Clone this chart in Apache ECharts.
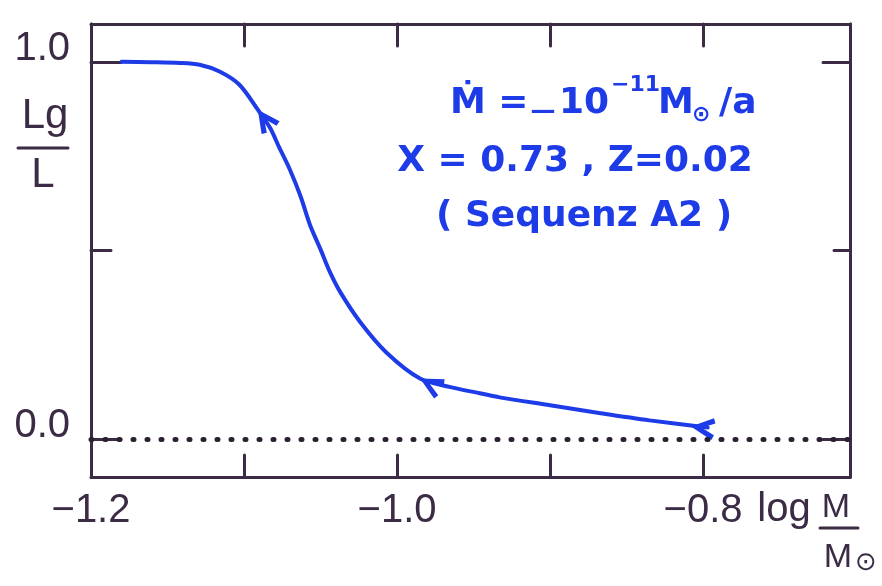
<!DOCTYPE html>
<html>
<head>
<meta charset="utf-8">
<script src="https://cdn.jsdelivr.net/npm/echarts@6/dist/echarts.min.js"></script>
<style>
  html, body { margin: 0; padding: 0; background: #fff; }
  #main { width: 882px; height: 586px; }
</style>
</head>
<body>
<div id="main"></div>
<script>
// track L_g/L against log M/M_sun (Sequenz A2)
const logM = [-1.180, -1.161, -1.142, -1.129, -1.116, -1.103, -1.091, -1.083, -1.077, -1.070, -1.063, -1.057, -1.050,
  -1.044, -1.037, -1.024, -1.007, -0.985, -0.965, -0.946, -0.933, -0.900, -0.867, -0.835, -0.797]
const lgRatio = [1.000, 0.999, 0.997, 0.992, 0.974, 0.939, 0.873, 0.825, 0.773, 0.714, 0.643, 0.569, 0.503,
  0.444, 0.389, 0.310, 0.230, 0.161, 0.138, 0.122, 0.111, 0.090, 0.069, 0.050, 0.031]

// arrow tips on the track (evolution runs to the left)
const arrowM = [-1.091, -0.985, -0.808]
const arrowL = [0.873, 0.161, 0.034]

// ticks and labels
const xTicks = [-1.1, -1.0, -0.9, -0.8]
const xLabels = [-1.2, -1.0, -0.8]
const yMainTicks = [0, 1]
const yMidTicks = [0.5]
const yLabels = [0, 1]

const ink = "#3b2b45"
const blue = "#1d3ce8"
const sans = "'Liberation Sans', sans-serif"
const hand = "bold 36px 'DejaVu Sans', sans-serif"
const handSmall = "bold 22px 'DejaVu Sans', sans-serif"

const fmt = v => v.toFixed(1).replace("-", "\u2212")
const frameLine = { onZero: false, lineStyle: { color: ink, width: 3 } }
const tickStyle = { color: ink, width: 3, cap: "round" }

const xAxisBase = {
  type: "value", min: -1.2, max: -0.704,
  axisLine: frameLine, splitLine: { show: false },
  axisTick: { inside: true, length: 22, customValues: xTicks, lineStyle: tickStyle }
}
const yAxisBase = {
  type: "value", min: -0.1, max: 1.1,
  axisLine: frameLine, splitLine: { show: false }, axisLabel: { show: false }
}

const chevron = "path://M0,11 L22,0 L24,5 L11,11 L24,17 L22,22 Z"

const blueText = (x, y, text, font, align) => ({
  type: "text", x, y,
  style: { text, font, fill: blue, align: align || "left", verticalAlign: "middle" }
})
const inkText = (x, y, text, font) => ({
  type: "text", x, y,
  style: { text, font, fill: ink, align: "center", verticalAlign: "middle" }
})

const options = {
  animation: false,
  grid: { left: 91, right: 32, top: 24, bottom: 109 },
  xAxis: [
    Object.assign({}, xAxisBase, {
      position: "bottom",
      axisLabel: { customValues: xLabels, formatter: fmt, fontSize: 40, fontFamily: sans, color: ink, margin: 14 }
    }),
    Object.assign({}, xAxisBase, { position: "top", axisLabel: { show: false } })
  ],
  yAxis: [
    Object.assign({}, yAxisBase, {
      position: "left",
      axisTick: { inside: true, length: 30, customValues: yMainTicks, lineStyle: tickStyle },
      axisLabel: { show: true, customValues: yLabels, formatter: fmt, fontSize: 40, fontFamily: sans, color: ink,
        margin: 21, verticalAlign: "bottom", lineHeight: 26 }
    }),
    Object.assign({}, yAxisBase, {
      position: "right",
      axisTick: { inside: true, length: 27, customValues: yMainTicks, lineStyle: tickStyle }
    }),
    Object.assign({}, yAxisBase, {
      position: "left",
      axisTick: { inside: true, length: 20, customValues: yMidTicks, lineStyle: tickStyle }
    }),
    Object.assign({}, yAxisBase, {
      position: "right",
      axisTick: { inside: true, length: 16, customValues: yMidTicks, lineStyle: tickStyle }
    })
  ],
  series: [
    {
      type: "line",
      data: logM.map((m, i) => [m, lgRatio[i]]),
      smooth: 0.3,
      showSymbol: false,
      lineStyle: { color: blue, width: 4, cap: "round" },
      markLine: {
        silent: true,
        symbol: ["none", "none"],
        label: { show: false },
        lineStyle: { color: "#2a2030", type: [1, 13], width: 5, cap: "round" },
        data: [{ yAxis: 0 }]
      },
      z: 3
    },
    {
      type: "scatter",
      data: arrowM.map((m, i) => [m, arrowL[i]]),
      symbol: chevron,
      symbolSize: [24, 22],
      itemStyle: { color: blue, opacity: 1 },
      z: 4
    }
  ],
  graphic: [
    // y axis name: Lg / L
    inkText(45, 116, "Lg", "42px " + sans),
    { type: "line", shape: { x1: 18, y1: 148, x2: 68, y2: 148 }, style: { stroke: ink, lineWidth: 3, lineCap: "round" } },
    inkText(43, 175, "L", "42px " + sans),
    // x axis name: log M / M_sun
    inkText(784, 510, "log", "40px " + sans),
    inkText(836, 508, "M", "34px " + sans),
    { type: "line", shape: { x1: 820, y1: 528, x2: 858, y2: 528 }, style: { stroke: ink, lineWidth: 3, lineCap: "round" } },
    inkText(838, 558, "M", "34px " + sans),
    inkText(866, 563, "\u2299", "26px 'DejaVu Sans'"),
    // annotation
    blueText(450, 104, "\u1E40 =", hand),
    blueText(543, 111, "\u2014", "bold 25px 'DejaVu Sans', sans-serif", "center"),
    blueText(609, 104, "10", hand, "right"),
    blueText(611, 85, "\u221211", handSmall),
    blueText(658, 104, "M", hand),
    blueText(692, 115, "\u2299", handSmall),
    blueText(719, 104, "/a", hand),
    blueText(575, 162, "X = 0.73 , Z=0.02", hand, "center"),
    blueText(584, 217, "( Sequenz A2 )", hand, "center")
  ]
}

const myChart = echarts.init(document.getElementById("main"))
myChart.setOption(options)

// turn each arrow head along the track, tip on the point
const px = i => myChart.convertToPixel({ gridIndex: 0 }, [logM[i], lgRatio[i]])
const arrowData = arrowM.map((m, k) => {
  let j = 0
  logM.forEach((v, i) => { if (Math.abs(v - m) < Math.abs(logM[j] - m)) j = i })
  const a = px(Math.max(j - 1, 0))
  const b = px(Math.min(j + 1, logM.length - 1))
  const dx = a[0] - b[0], dy = a[1] - b[1]
  const len = Math.hypot(dx, dy)
  const rot = Math.atan2(-dy, dx) * 180 / Math.PI - 180
  return {
    value: [m, arrowL[k]],
    symbolRotate: rot,
    symbolOffset: [-12 * dx / len, -12 * dy / len]
  }
})
myChart.setOption({ series: [{}, { data: arrowData }] })
</script>
</body>
</html>
